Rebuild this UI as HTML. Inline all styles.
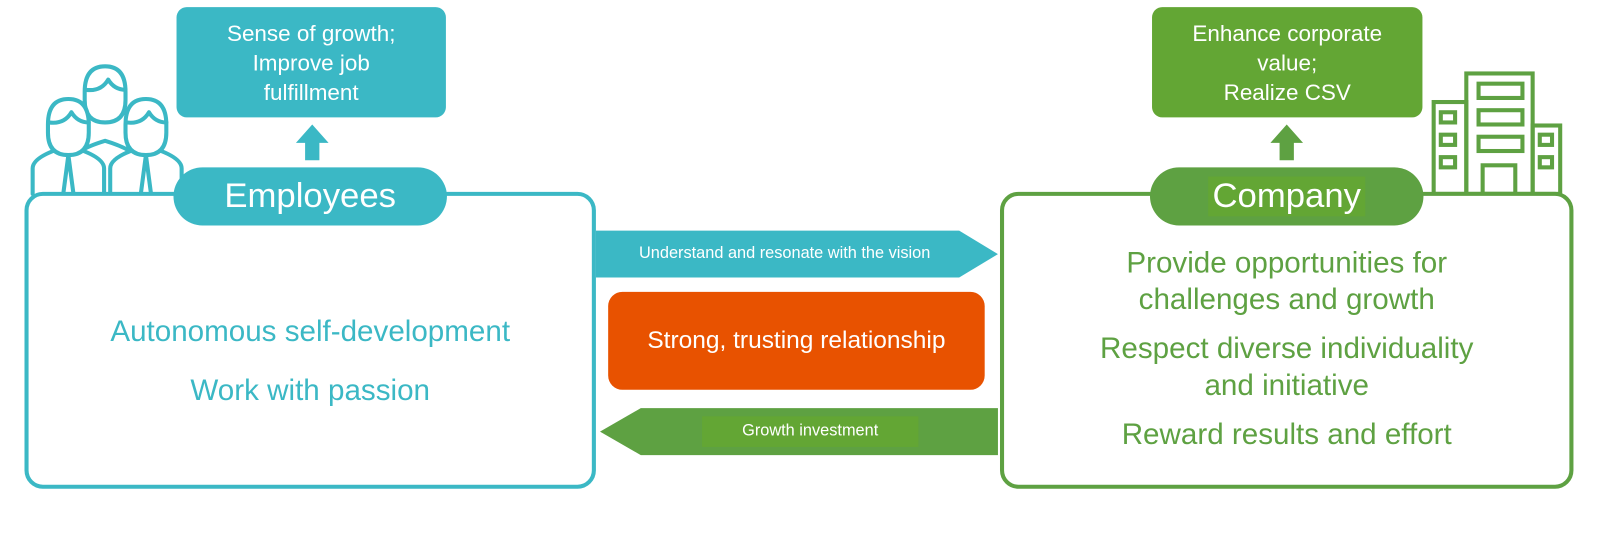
<!DOCTYPE html>
<html><head><meta charset="utf-8"><style>
body{margin:0;width:1600px;height:540px;background:#fff;font-family:"Liberation Sans",sans-serif;position:relative;overflow:hidden}
#w{position:absolute;left:0;top:0;width:1568px;height:530px;transform:scale(1.0204);transform-origin:0 0}
.a{position:absolute;box-sizing:border-box}
.c{display:flex;align-items:center;justify-content:center;text-align:center;color:#fff}
</style></head><body><div id="w">
<svg class="a" style="left:0;top:0" width="1568" height="530">
 <g fill="#fff" stroke="#3bb8c5" stroke-width="4" stroke-linejoin="round" stroke-linecap="round">
  <path d="M70 190 v-30 q0-12 33-22 q33 10 33 22 v30"/>
  <path d="M83 90 q0-25 20-25 q20 0 20 25 v8 q0 22-20 22 q-20 0-20-22 z"/>
  <path d="M84 88 q15 2 22-10 q6 10 17 10"/>
  <path d="M32 190 v-25 q0-12 35-22 q35 10 35 22 v25"/>
  <path d="M47 122 q0-25 20-25 q20 0 20 25 v8 q0 22-20 22 q-20 0-20-22 z"/>
  <path d="M48 120 q15 2 22-10 q6 10 17 10"/>
  <path d="M108 190 v-25 q0-12 35-22 q35 10 35 22 v25"/>
  <path d="M123 122 q0-25 20-25 q20 0 20 25 v8 q0 22-20 22 q-20 0-20-22 z"/>
  <path d="M124 120 q15 2 22-10 q6 10 17 10"/>
  <path d="M67 152 l-5 38 M67 152 l5 38 M143 152 l-5 38 M143 152 l5 38" fill="none"/>
 </g>
 <g fill="none" stroke="#5ea142" stroke-width="4">
  <rect x="1437" y="72" width="65" height="118"/><rect x="1405" y="100" width="32" height="90"/><rect x="1502" y="123" width="27" height="67"/>
  <rect x="1449" y="82" width="43" height="14"/><rect x="1449" y="108" width="43" height="14"/><rect x="1449" y="134" width="43" height="14"/>
  <rect x="1412" y="110" width="14" height="10"/><rect x="1412" y="132" width="14" height="10"/><rect x="1412" y="154" width="14" height="10"/>
  <rect x="1509" y="132" width="12" height="10"/><rect x="1509" y="154" width="12" height="10"/>
  <rect x="1453" y="162" width="32" height="28"/>
 </g>
 <polygon points="584,226 940,226 978,249 940,272 584,272" fill="#3bb8c5"/>
 <polygon points="978,400 628,400 588,423 628,446 978,446" fill="#5ea142"/>
 <rect x="688" y="408" width="212" height="30" fill="#63a634"/>
 <polygon points="306,122 322,140 313,140 313,157 299,157 299,140 290,140" fill="#3bb8c5"/>
 <polygon points="1261,122 1277,140 1268,140 1268,157 1254,157 1254,140 1245,140" fill="#5ea142"/>
</svg>
<div class="a" style="left:24px;top:188px;width:560px;height:291px;border:4px solid #3bb8c5;border-radius:18px;background:#fff"></div>
<div class="a" style="left:980px;top:188px;width:562px;height:291px;border:4px solid #5ea142;border-radius:18px;background:#fff"></div>
<div class="a c" style="left:173px;top:7px;width:264px;height:108px;background:#3bb8c5;border-radius:10px;font-size:22px;line-height:29px">Sense of growth;<br>Improve job<br>fulfillment</div>
<div class="a c" style="left:1129px;top:7px;width:265px;height:108px;background:#63a634;border-radius:10px;font-size:22px;line-height:29px">Enhance corporate<br>value;<br>Realize CSV</div>
<div class="a c" style="left:170px;top:164px;width:268px;height:57px;background:#3bb8c5;border-radius:29px;font-size:34px">Employees</div>
<div class="a c" style="left:1127px;top:164px;width:268px;height:57px;background:#5ea142;border-radius:29px;font-size:34px"><span style="background:#63a634;padding:0 4px">Company</span></div>
<div class="a c" style="left:584px;top:226px;width:370px;height:46px;font-size:16px">Understand and resonate with the vision</div>
<div class="a c" style="left:596px;top:286px;width:369px;height:96px;background:#e85200;border-radius:14px;font-size:24px">Strong, trusting relationship</div>
<div class="a c" style="left:688px;top:408px;width:212px;height:30px;font-size:16px">Growth investment</div>
<div class="a" style="left:28px;top:296px;width:552px;text-align:center;color:#3bb8c5;font-size:29px;line-height:58px">Autonomous self-development<br>Work with passion</div>
<div class="a" style="left:984px;top:240px;width:554px;text-align:center;color:#5ea142;font-size:29px;line-height:36px">Provide opportunities for<br>challenges and growth<div style="height:12px"></div>Respect diverse individuality<br>and initiative<div style="height:12px"></div>Reward results and effort</div>
</div></body></html>
